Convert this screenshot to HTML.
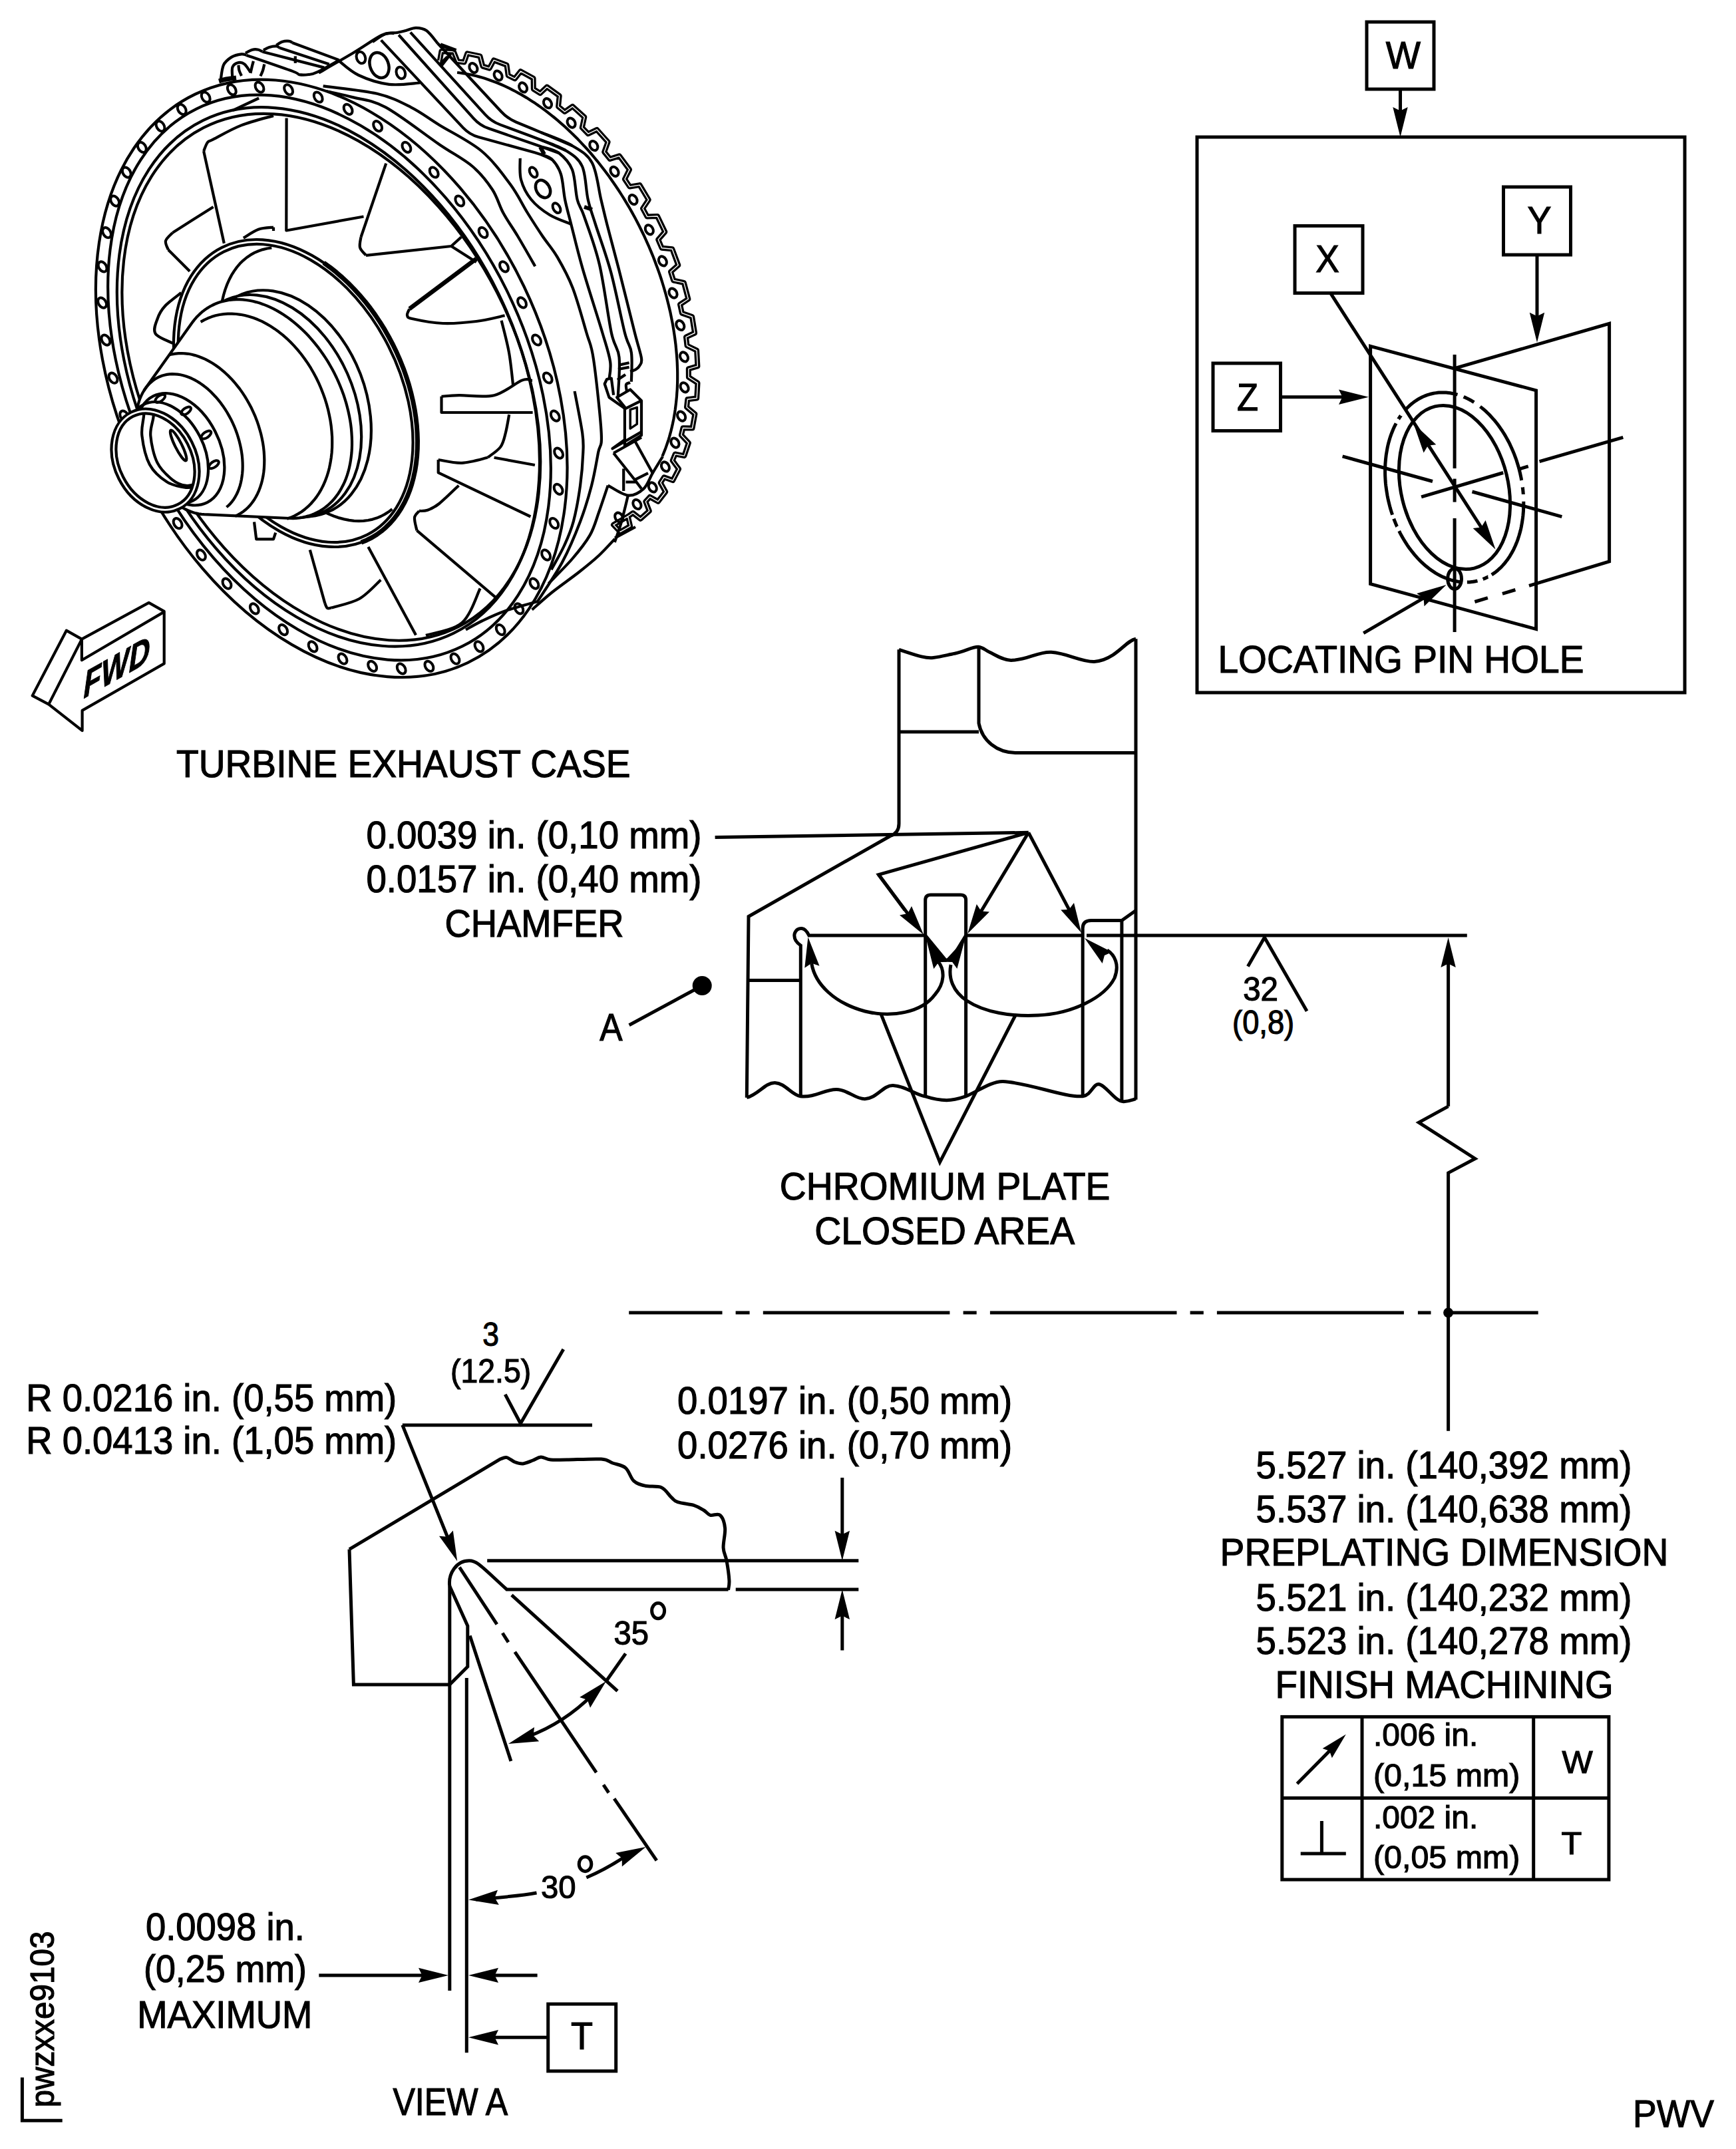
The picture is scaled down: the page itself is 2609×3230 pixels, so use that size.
<!DOCTYPE html>
<html><head><meta charset="utf-8"><style>
html,body{margin:0;padding:0;background:#fff;}
svg{display:block;}
</style></head><body>
<svg xmlns="http://www.w3.org/2000/svg" width="2609" height="3230" viewBox="0 0 2609 3230">
<rect width="2609" height="3230" fill="#fff"/>
<g fill="none" stroke="#000" stroke-width="5" stroke-linecap="butt" stroke-linejoin="miter">
<style>.f{fill:#000;stroke:none} text{fill:#000;stroke:#000;stroke-width:1.2px;font-family:"Liberation Sans",sans-serif}</style>
<rect x="1799.0" y="206.0" width="733.0" height="835.0"/>
<rect x="2054.0" y="33.0" width="101.0" height="101.0"/>
<text x="2082.8" y="102.9" font-size="57.5" textLength="52.2" lengthAdjust="spacingAndGlyphs" >W</text>
<line x1="2104.5" y1="134.0" x2="2104.5" y2="170.0"/>
<polygon class="f" points="2104.5,206.0 2093.3,161.0 2104.5,166.4 2115.7,161.0"/>
<rect x="1946.0" y="339.5" width="102.0" height="101.0"/>
<text x="1977.3" y="409.3" font-size="57.5" textLength="35.5" lengthAdjust="spacingAndGlyphs" >X</text>
<rect x="2259.5" y="281.0" width="101.0" height="102.0"/>
<text x="2295.4" y="351.1" font-size="57.5" textLength="36.0" lengthAdjust="spacingAndGlyphs" >Y</text>
<rect x="1823.0" y="546.0" width="101.5" height="101.5"/>
<text x="1858.9" y="616.5" font-size="57.5" textLength="32.0" lengthAdjust="spacingAndGlyphs" >Z</text>
<line x1="1924.5" y1="596.7" x2="2021.0" y2="596.7"/>
<polygon class="f" points="2057.0,596.7 2012.0,607.9 2017.4,596.7 2012.0,585.5"/>
<line x1="2310.0" y1="383.0" x2="2310.0" y2="478.8"/>
<polygon class="f" points="2310.0,514.8 2298.8,469.8 2310.0,475.2 2321.2,469.8"/>
<polygon points="2059.6,520.3 2308.6,586.8 2308.6,945.6 2059.6,877.7"/>
<polyline points="2186.1,553.7 2418.6,486.3 2418.6,844.0 2298.0,880.3"/>
<line x1="2277.4" y1="886.5" x2="2257.9" y2="892.3"/>
<line x1="2235.9" y1="898.7" x2="2216.4" y2="904.5"/>
<line x1="2186.1" y1="533.0" x2="2186.1" y2="704.0"/>
<line x1="2186.1" y1="719.6" x2="2186.1" y2="754.6"/>
<line x1="2186.1" y1="779.0" x2="2186.1" y2="950.0"/>
<line x1="2017.6" y1="685.9" x2="2153.0" y2="723.5"/>
<line x1="2212.5" y1="739.0" x2="2347.3" y2="776.6"/>
<line x1="2136.1" y1="746.8" x2="2259.2" y2="710.5"/>
<line x1="2282.5" y1="705.3" x2="2296.8" y2="700.9"/>
<line x1="2313.6" y1="693.7" x2="2439.3" y2="657.4"/>
<line x1="1999.5" y1="440.4" x2="2228.0" y2="795.5"/>
<polygon class="f" points="2247.5,825.8 2213.7,794.0 2226.1,792.5 2232.6,781.9"/>
<polygon class="f" points="2124.4,636.6 2158.3,668.2 2146.0,669.8 2139.6,680.4"/>
<ellipse cx="2186.0" cy="732.5" rx="125.1" ry="80.5" transform="rotate(76.41 2186.0 732.5)" />
<polyline points="2197.0,874.8 2194.4,874.6 2191.7,874.2 2189.0,873.7 2186.3,873.2 2183.6,872.5 2180.9,871.8 2178.3,871.0 2175.6,870.0 2172.9,869.0 2170.3,867.9 2167.6,866.7 2165.0,865.4 2162.3,864.1 2159.7,862.6 2157.1,861.1 2154.6,859.4 2152.0,857.7 2149.5,855.9 2147.0,854.0 2144.5,852.0 2142.0,850.0 2139.6,847.9 2137.2,845.7 2134.9,843.4 2132.5,841.1 2130.2,838.6 2128.0,836.1 2125.8,833.6 2123.6,830.9 2121.5,828.3 2119.4,825.5 2117.3,822.7 2115.3,819.8 2113.4,816.9 2111.5,813.9 2109.6,810.8 2107.8,807.7 2106.0,804.6 2104.3,801.4 2102.7,798.1"/>
<polyline points="2099.6,791.5 2099.4,791.2 2099.3,790.9 2099.2,790.6 2099.0,790.3 2098.9,790.1 2098.8,789.8 2098.7,789.5 2098.5,789.2 2098.4,788.9 2098.3,788.6 2098.2,788.3 2098.0,788.0 2097.9,787.7 2097.8,787.4 2097.7,787.2 2097.5,786.9 2097.4,786.6 2097.3,786.3 2097.2,786.0 2097.1,785.7 2096.9,785.4 2096.8,785.1 2096.7,784.8 2096.6,784.5 2096.5,784.2 2096.3,783.9 2096.2,783.6 2096.1,783.3 2096.0,783.1 2095.9,782.8 2095.8,782.5 2095.6,782.2 2095.5,781.9 2095.4,781.6 2095.3,781.3 2095.2,781.0 2095.1,780.7 2095.0,780.4 2094.8,780.1 2094.7,779.8"/>
<polyline points="2092.6,773.8 2091.4,770.2 2090.3,766.7 2089.2,763.1 2088.3,759.5 2087.4,755.8 2086.5,752.2 2085.7,748.5 2085.0,744.9 2084.4,741.2 2083.8,737.5 2083.3,733.8 2082.8,730.1 2082.4,726.4 2082.1,722.8 2081.9,719.1 2081.7,715.4 2081.6,711.8 2081.6,708.1 2081.6,704.5 2081.8,700.9 2081.9,697.3 2082.2,693.8 2082.5,690.2 2082.9,686.7 2083.3,683.3 2083.9,679.8 2084.5,676.4 2085.1,673.0 2085.8,669.7 2086.6,666.4 2087.5,663.2 2088.4,660.0 2089.4,656.8 2090.5,653.7 2091.6,650.7 2092.8,647.7 2094.0,644.8 2095.3,641.9 2096.7,639.1 2098.1,636.3"/>
<polyline points="2101.8,629.8 2101.9,629.7 2102.0,629.6 2102.1,629.4 2102.2,629.3 2102.2,629.2 2102.3,629.1 2102.4,628.9 2102.5,628.8 2102.6,628.7 2102.7,628.5 2102.7,628.4 2102.8,628.3 2102.9,628.2 2103.0,628.0 2103.1,627.9 2103.2,627.8 2103.2,627.7 2103.3,627.5 2103.4,627.4 2103.5,627.3 2103.6,627.1 2103.7,627.0 2103.7,626.9 2103.8,626.8 2103.9,626.6 2104.0,626.5 2104.1,626.4 2104.2,626.3 2104.2,626.1 2104.3,626.0 2104.4,625.9 2104.5,625.8 2104.6,625.7 2104.7,625.5 2104.8,625.4 2104.8,625.3 2104.9,625.2 2105.0,625.0 2105.1,624.9 2105.2,624.8"/>
<polyline points="2111.8,616.4 2113.3,614.7 2114.9,613.1 2116.5,611.5 2118.2,609.9 2119.8,608.4 2121.5,607.0 2123.3,605.6 2125.0,604.3 2126.8,603.0 2128.6,601.8 2130.4,600.6 2132.3,599.5 2134.2,598.5 2136.1,597.5 2138.0,596.5 2139.9,595.7 2141.9,594.9 2143.9,594.1 2145.9,593.4 2147.9,592.8 2149.9,592.2 2152.0,591.7 2154.1,591.3 2156.1,590.9 2158.2,590.6 2160.3,590.3 2162.5,590.1 2164.6,590.0 2166.7,589.9 2168.9,589.9 2171.0,590.0 2173.2,590.1 2175.3,590.2 2177.5,590.5 2179.7,590.8 2181.8,591.2 2184.0,591.6 2186.2,592.1 2188.4,592.6 2190.5,593.2"/>
<polyline points="2199.6,596.4 2200.0,596.6 2200.4,596.7 2200.8,596.9 2201.2,597.1 2201.6,597.3 2202.0,597.4 2202.4,597.6 2202.8,597.8 2203.2,598.0 2203.6,598.2 2204.0,598.4 2204.4,598.5 2204.8,598.7 2205.2,598.9 2205.6,599.1 2206.0,599.3 2206.3,599.5 2206.7,599.7 2207.1,599.9 2207.5,600.1 2207.9,600.3 2208.3,600.5 2208.7,600.7 2209.1,601.0 2209.5,601.2 2209.9,601.4 2210.3,601.6 2210.7,601.8 2211.1,602.0 2211.5,602.3 2211.8,602.5 2212.2,602.7 2212.6,603.0 2213.0,603.2 2213.4,603.4 2213.8,603.7 2214.2,603.9 2214.6,604.1 2215.0,604.4 2215.3,604.6"/>
<polyline points="2224.5,611.1 2226.8,612.9 2229.0,614.7 2231.3,616.7 2233.5,618.7 2235.6,620.7 2237.8,622.8 2239.9,625.0 2242.0,627.3 2244.0,629.6 2246.1,631.9 2248.0,634.3 2250.0,636.8 2251.9,639.3 2253.8,641.9 2255.6,644.6 2257.4,647.2 2259.2,650.0 2260.9,652.7 2262.6,655.5 2264.2,658.4 2265.8,661.3 2267.4,664.2 2268.9,667.2 2270.3,670.2 2271.7,673.3 2273.1,676.4 2274.4,679.5 2275.7,682.6 2276.9,685.8 2278.1,689.0 2279.2,692.2 2280.2,695.5 2281.2,698.7 2282.2,702.0 2283.1,705.3 2283.9,708.6 2284.7,711.9 2285.4,715.3 2286.1,718.6 2286.7,722.0"/>
<polyline points="2288.3,732.5 2288.3,732.8 2288.4,733.0 2288.4,733.3 2288.4,733.6 2288.5,733.8 2288.5,734.1 2288.5,734.3 2288.6,734.6 2288.6,734.9 2288.6,735.1 2288.6,735.4 2288.7,735.6 2288.7,735.9 2288.7,736.1 2288.7,736.4 2288.8,736.7 2288.8,736.9 2288.8,737.2 2288.9,737.4 2288.9,737.7 2288.9,738.0 2288.9,738.2 2289.0,738.5 2289.0,738.7 2289.0,739.0 2289.0,739.2 2289.0,739.5 2289.1,739.8 2289.1,740.0 2289.1,740.3 2289.1,740.5 2289.2,740.8 2289.2,741.0 2289.2,741.3 2289.2,741.6 2289.2,741.8 2289.3,742.1 2289.3,742.3 2289.3,742.6 2289.3,742.9"/>
<polyline points="2289.8,753.7 2289.8,757.3 2289.8,760.9 2289.6,764.4 2289.5,768.0 2289.2,771.5 2288.9,775.0 2288.5,778.4 2288.0,781.9 2287.5,785.3 2286.9,788.6 2286.3,792.0 2285.6,795.3 2284.8,798.5 2283.9,801.7 2283.0,804.9 2282.0,808.0 2281.0,811.1 2279.9,814.1 2278.7,817.0 2277.5,820.0 2276.2,822.8 2274.9,825.6 2273.5,828.3 2272.0,831.0 2270.5,833.6 2269.0,836.1 2267.3,838.6 2265.7,841.0 2263.9,843.3 2262.1,845.6 2260.3,847.8 2258.4,849.9 2256.5,851.9 2254.5,853.9 2252.5,855.7 2250.5,857.5 2248.4,859.2 2246.2,860.9 2244.0,862.4 2241.8,863.9"/>
<polyline points="2236.3,867.1 2236.1,867.1 2235.9,867.2 2235.7,867.3 2235.5,867.4 2235.3,867.5 2235.1,867.6 2235.0,867.7 2234.8,867.8 2234.6,867.9 2234.4,868.0 2234.2,868.1 2234.0,868.2 2233.8,868.3 2233.6,868.3 2233.5,868.4 2233.3,868.5 2233.1,868.6 2232.9,868.7 2232.7,868.8 2232.5,868.9 2232.3,869.0 2232.1,869.0 2231.9,869.1 2231.7,869.2 2231.6,869.3 2231.4,869.4 2231.2,869.5 2231.0,869.5 2230.8,869.6 2230.6,869.7 2230.4,869.8 2230.2,869.8 2230.0,869.9 2229.8,870.0 2229.6,870.1 2229.4,870.2 2229.3,870.2 2229.1,870.3 2228.9,870.4 2228.7,870.5"/>
<polyline points="2220.5,873.0 2220.1,873.1 2219.7,873.2 2219.3,873.3 2218.9,873.4 2218.5,873.5 2218.2,873.6 2217.8,873.6 2217.4,873.7 2217.0,873.8 2216.6,873.9 2216.2,873.9 2215.8,874.0 2215.5,874.1 2215.1,874.1 2214.7,874.2 2214.3,874.3 2213.9,874.3 2213.5,874.4 2213.1,874.4 2212.7,874.5 2212.4,874.5 2212.0,874.6 2211.6,874.6 2211.2,874.7 2210.8,874.7 2210.4,874.8 2210.0,874.8 2209.6,874.8 2209.2,874.9 2208.8,874.9 2208.4,874.9 2208.0,874.9 2207.6,875.0 2207.2,875.0 2206.9,875.0 2206.5,875.0 2206.1,875.0 2205.7,875.1 2205.3,875.1 2204.9,875.1"/>
<ellipse cx="2186.1" cy="869.9" rx="10.4" ry="15.5"/>
<line x1="2049.2" y1="951.6" x2="2142.6" y2="897.1"/>
<polygon class="f" points="2173.7,879.0 2140.5,911.3 2139.5,898.9 2129.2,892.0"/>
<text x="1830.4" y="1011.2" font-size="57.5" textLength="550.0" lengthAdjust="spacingAndGlyphs" >LOCATING PIN HOLE</text>
<text x="550.4" y="1274.6" font-size="57.5" textLength="504.0" lengthAdjust="spacingAndGlyphs" >0.0039 in. (0,10 mm)</text>
<text x="550.4" y="1341.1" font-size="57.5" textLength="504.0" lengthAdjust="spacingAndGlyphs" >0.0157 in. (0,40 mm)</text>
<text x="668.5" y="1407.7" font-size="57.5" textLength="269.0" lengthAdjust="spacingAndGlyphs" >CHAMFER</text>
<text x="901.2" y="1563.7" font-size="57.5" textLength="34.3" lengthAdjust="spacingAndGlyphs" >A</text>
<line x1="945.6" y1="1540.7" x2="1055.2" y2="1481.5"/>
<circle class="f" cx="1055.2" cy="1481.5" r="14.5"/>
<path d="M1351,976.3 L1351,1238 Q1351,1252 1338,1256.5" />
<path d="M1351,976.3 C1375,984 1390,990 1402.6,988.4 C1415,987 1425,984 1434.8,982.3 C1450,979 1462,972 1470.3,972.3 C1478,973 1480,977 1487.3,980.3 C1497,985 1507,992 1519.5,992.4 C1545,992 1560,979 1580,980.3 C1605,982 1625,995 1644.5,994.4 C1656,994 1664,990 1672.7,984.4 C1688,974 1697,962 1707,960.2" />
<path d="M1471,972.3 L1471,1087 C1476,1113 1498,1131.5 1527.6,1131.5 L1707,1131.5" />
<line x1="1351.0" y1="1100.0" x2="1471.0" y2="1100.0"/>
<line x1="1707.0" y1="960.2" x2="1707.0" y2="1652.8"/>
<line x1="1074.6" y1="1258.5" x2="1545.7" y2="1251.3"/>
<polyline points="1545.7,1251.3 1320.4,1314.6 1360.0,1368.0"/>
<line x1="1320.4" y1="1314.6" x2="1366.4" y2="1375.9"/>
<polygon class="f" points="1388.0,1404.7 1352.0,1375.4 1364.2,1373.0 1370.0,1362.0"/>
<line x1="1545.7" y1="1251.3" x2="1472.8" y2="1372.5"/>
<polygon class="f" points="1454.2,1403.3 1467.8,1359.0 1474.6,1369.4 1487.0,1370.5"/>
<line x1="1545.7" y1="1251.3" x2="1608.3" y2="1370.2"/>
<polygon class="f" points="1625.1,1402.0 1594.2,1367.4 1606.6,1367.0 1614.0,1357.0"/>
<polyline points="1338.0,1256.5 1125.0,1377.5 1122.3,1649.7"/>
<line x1="1122.5" y1="1473.6" x2="1203.3" y2="1473.6"/>
<path d="M1203.3,1647.7 L1203.3,1421 C1196,1416 1193,1411 1194,1404 C1196,1397 1201,1395 1205,1395.5 C1209,1396 1213,1400 1215.8,1406 L1390.7,1406" />
<line x1="1451.6" y1="1406.0" x2="1625.1" y2="1406.0"/>
<line x1="1633.0" y1="1406.0" x2="2204.8" y2="1406.0"/>
<path d="M1390.7,1647.7 L1390.7,1353 Q1390.7,1345 1398.7,1345 L1443.6,1345 Q1451.6,1345 1451.6,1353 L1451.6,1647.7" />
<polyline points="1390.7,1406.0 1421.1,1443.1 1429.0,1443.1 1451.6,1406.0"/>
<path d="M1627.2,1647.7 L1627.2,1395 Q1627.2,1383.5 1640,1383.5 L1685.9,1383.5 L1707,1368.5" />
<line x1="1685.9" y1="1383.5" x2="1685.9" y2="1656.0"/>
<path d="M1122.3,1649.7 C1140,1645 1150,1627 1164.7,1627.5 C1180,1628 1190,1646 1203,1647.7 C1225,1650 1240,1637 1257.4,1637.6 C1275,1638 1285,1652 1299.8,1651.7 C1318,1651 1327,1631 1342.1,1631.5 C1360,1632 1375,1645 1389.7,1647.7 C1400,1651 1410,1653.7 1422.7,1653.7 C1435,1653.7 1445,1650 1451.8,1647.7 C1470,1640 1490,1625 1507.4,1625.5 C1545,1627 1600,1650 1627.2,1647.7 C1640,1646 1643,1629.5 1650.6,1629.5 C1662,1630 1675,1656 1688.9,1655.7 C1697,1655.5 1702,1653 1707,1651.7" />
<path d="M1219.7,1448 C1225,1480 1255,1508 1300,1520 C1340,1530 1385,1522 1405,1495 C1420,1478 1420,1458 1410.5,1446" />
<polygon class="f" points="1214.4,1408.6 1231.5,1451.7 1219.7,1447.8 1209.3,1454.7"/>
<polygon class="f" points="1392.0,1411.3 1423.1,1445.7 1410.6,1446.2 1403.3,1456.3"/>
<path d="M1429,1450 C1425,1470 1432,1490 1452.9,1504 C1480,1522 1520,1528 1560,1526 C1610,1524 1660,1500 1675,1470 C1683,1450 1675,1435 1664,1428" />
<polygon class="f" points="1450.3,1411.3 1438.4,1456.1 1431.2,1446.0 1418.8,1445.3"/>
<polygon class="f" points="1630.0,1410.0 1671.3,1431.0 1659.9,1435.9 1656.7,1447.9"/>
<polyline points="1324.4,1525.2 1412.5,1746.8 1525.8,1526.5"/>
<text x="1171.8" y="1803.2" font-size="57.5" textLength="496.7" lengthAdjust="spacingAndGlyphs" >CHROMIUM PLATE</text>
<text x="1224.2" y="1869.8" font-size="57.5" textLength="391.1" lengthAdjust="spacingAndGlyphs" >CLOSED AREA</text>
<polyline points="1875.4,1452.4 1900.4,1408.9 1964.1,1519.8"/>
<text x="1868.2" y="1504.0" font-size="50" textLength="52.8" lengthAdjust="spacingAndGlyphs" >32</text>
<text x="1852.1" y="1554.0" font-size="50" textLength="93.1" lengthAdjust="spacingAndGlyphs" >(0,8)</text>
<line x1="2176.6" y1="1662.9" x2="2176.6" y2="1444.9"/>
<polygon class="f" points="2176.6,1408.9 2187.8,1453.9 2176.6,1448.5 2165.4,1453.9"/>
<polyline points="2176.6,1662.9 2132.3,1687.1 2216.9,1741.5 2176.6,1762.9 2176.6,2150.7"/>
<line x1="945.2" y1="1973.0" x2="1085.5" y2="1973.0"/>
<line x1="1105.6" y1="1973.0" x2="1126.6" y2="1973.0"/>
<line x1="1146.8" y1="1973.0" x2="1427.4" y2="1973.0"/>
<line x1="1447.6" y1="1973.0" x2="1467.7" y2="1973.0"/>
<line x1="1487.9" y1="1973.0" x2="1768.5" y2="1973.0"/>
<line x1="1788.6" y1="1973.0" x2="1808.8" y2="1973.0"/>
<line x1="1828.9" y1="1973.0" x2="2109.9" y2="1973.0"/>
<line x1="2130.9" y1="1973.0" x2="2150.5" y2="1973.0"/>
<line x1="2176.6" y1="1973.0" x2="2311.7" y2="1973.0"/>
<circle class="f" cx="2176.6" cy="1973" r="7.5"/>
<text x="39.2" y="2120.6" font-size="57.5" textLength="557.0" lengthAdjust="spacingAndGlyphs" >R 0.0216 in. (0,55 mm)</text>
<text x="39.2" y="2185.1" font-size="57.5" textLength="557.0" lengthAdjust="spacingAndGlyphs" >R 0.0413 in. (1,05 mm)</text>
<text x="725.3" y="2023.1" font-size="50" textLength="24.7" lengthAdjust="spacingAndGlyphs" >3</text>
<text x="677.1" y="2077.6" font-size="50" textLength="121.0" lengthAdjust="spacingAndGlyphs" >(12.5)</text>
<line x1="604.8" y1="2141.9" x2="890.0" y2="2141.9"/>
<polyline points="759.2,2095.9 782.3,2139.5 846.8,2027.9"/>
<line x1="604.8" y1="2141.9" x2="673.7" y2="2313.0"/>
<polygon class="f" points="687.2,2346.4 660.0,2308.8 672.4,2309.7 680.8,2300.5"/>
<path d="M525.0,2328.7 L751.7,2193.1 C753.4,2192.7 757.9,2189.9 761.5,2190.6 C765.2,2191.4 769.7,2195.9 773.8,2197.5 C777.9,2199.0 781.5,2200.3 786.0,2199.9 C790.5,2199.5 796.2,2196.7 800.7,2195.0 C805.2,2193.4 808.5,2190.3 812.9,2190.1 C817.4,2190.0 821.1,2193.4 827.6,2194.1 C834.2,2194.7 839.5,2194.2 852.1,2194.1 C864.8,2193.9 892.1,2192.3 903.5,2193.1 C914.9,2193.9 914.5,2196.8 920.7,2199.0 C926.8,2201.2 934.9,2201.8 940.2,2206.3 C945.5,2210.8 947.6,2221.4 952.5,2225.9 C957.4,2230.4 962.7,2231.6 969.6,2233.2 C976.6,2234.9 987.6,2232.8 994.1,2235.7 C1000.6,2238.5 1004.7,2246.7 1008.8,2250.4 C1012.9,2254.0 1012.9,2255.7 1018.6,2257.7 C1024.3,2259.8 1036.5,2260.6 1043.1,2262.6 C1049.6,2264.7 1053.7,2267.5 1057.8,2270.0 C1061.8,2272.4 1063.5,2276.1 1067.5,2277.3 C1071.6,2278.5 1078.6,2274.0 1082.2,2277.3 C1085.9,2280.6 1088.8,2288.7 1089.6,2296.9 C1090.4,2305.0 1086.7,2318.1 1087.1,2326.3 C1087.5,2334.4 1090.6,2337.7 1092.0,2345.8 C1093.5,2354.0 1095.5,2367.9 1095.9,2375.2 C1096.4,2382.6 1094.7,2387.5 1094.5,2389.9" />
<polyline points="525.0,2328.7 531.4,2531.9 675.8,2531.9 702.8,2505.0 702.8,2443.8 675.8,2384.0"/>
<path d="M675.8,2384.0 C673.4,2365.4 685.6,2345.8 705.2,2345.8 C717.5,2345.8 724.8,2355.6 761.5,2388.9 L1094.5,2388.9" />
<line x1="675.8" y1="2384.0" x2="675.8" y2="2991.9"/>
<line x1="701.3" y1="2522.0" x2="701.3" y2="3085.3"/>
<line x1="732.2" y1="2345.8" x2="1290.3" y2="2345.8"/>
<line x1="1105.7" y1="2388.9" x2="1290.3" y2="2388.9"/>
<line x1="1265.8" y1="2221.0" x2="1265.8" y2="2309.8"/>
<polygon class="f" points="1265.8,2345.8 1254.6,2300.8 1265.8,2306.2 1277.0,2300.8"/>
<line x1="1265.8" y1="2480.5" x2="1265.8" y2="2425.0"/>
<polygon class="f" points="1265.8,2389.0 1277.0,2434.0 1265.8,2428.6 1254.6,2434.0"/>
<line x1="706.2" y1="2458.5" x2="767.9" y2="2647.0"/>
<line x1="690.5" y1="2355.6" x2="746.8" y2="2441.3"/>
<line x1="755.2" y1="2454.5" x2="764.0" y2="2468.3"/>
<line x1="773.8" y1="2482.9" x2="896.2" y2="2664.1"/>
<line x1="906.9" y1="2682.7" x2="914.8" y2="2694.5"/>
<line x1="923.1" y1="2703.3" x2="986.8" y2="2796.3"/>
<line x1="768.9" y1="2397.3" x2="928.0" y2="2541.7"/>
<path d="M793.4,2610.2 C832.5,2595.6 866.8,2571.1 891.3,2546.6" />
<polygon class="f" points="764.0,2621.0 803.0,2596.0 801.5,2608.4 810.2,2617.2"/>
<polygon class="f" points="910.9,2527.0 887.0,2566.7 882.9,2555.0 871.1,2550.9"/>
<line x1="910.9" y1="2527.0" x2="940.2" y2="2485.4"/>
<text x="922.4" y="2471.9" font-size="50" textLength="52.5" lengthAdjust="spacingAndGlyphs" >35</text>
<ellipse cx="989.1" cy="2421.1" rx="9.5" ry="11.6" stroke-width="5"/>
<path d="M806.5,2845 C780,2850 740,2853 715,2855" />
<polygon class="f" points="704.0,2855.5 748.0,2840.7 743.5,2852.3 749.8,2863.1"/>
<path d="M881.3,2822 C905,2812 925,2800 940,2790" />
<polygon class="f" points="970.6,2775.9 934.8,2805.4 934.8,2792.9 925.2,2785.1"/>
<text x="813.0" y="2852.5" font-size="49" textLength="52.6" lengthAdjust="spacingAndGlyphs" >30</text>
<ellipse cx="879.5" cy="2801.7" rx="9.3" ry="11" stroke-width="5"/>
<text x="218.9" y="2915.9" font-size="57.5" textLength="239.0" lengthAdjust="spacingAndGlyphs" >0.0098 in.</text>
<text x="216.0" y="2979.3" font-size="57.5" textLength="245.0" lengthAdjust="spacingAndGlyphs" >(0,25 mm)</text>
<text x="206.2" y="3048.4" font-size="57.5" textLength="263.3" lengthAdjust="spacingAndGlyphs" >MAXIMUM</text>
<line x1="479.3" y1="2968.9" x2="638.0" y2="2968.9"/>
<polygon class="f" points="674.0,2968.9 629.0,2980.1 634.4,2968.9 629.0,2957.7"/>
<line x1="807.6" y1="2968.9" x2="740.0" y2="2968.9"/>
<polygon class="f" points="704.0,2968.9 749.0,2957.7 743.6,2968.9 749.0,2980.1"/>
<rect x="823.7" y="3012.1" width="102.0" height="100.8"/>
<text x="858.0" y="3080.0" font-size="57.5" textLength="33.0" lengthAdjust="spacingAndGlyphs" >T</text>
<line x1="823.7" y1="3062.2" x2="740.0" y2="3062.2"/>
<polygon class="f" points="704.0,3062.2 749.0,3051.0 743.6,3062.2 749.0,3073.4"/>
<text x="590.4" y="3179.2" font-size="57.5" textLength="172.8" lengthAdjust="spacingAndGlyphs" >VIEW A</text>
<text x="0" y="0" font-size="50" transform="translate(81 3167.5) rotate(-90)" textLength="265" lengthAdjust="spacingAndGlyphs">pwzxxe9103</text>
<polyline points="33.4,3122.6 33.4,3187.3 93.7,3187.3"/>
<text x="2454.0" y="3196.8" font-size="57.5" textLength="121.9" lengthAdjust="spacingAndGlyphs" >PWV</text>
<text x="1018.1" y="2125.2" font-size="57.5" textLength="503.0" lengthAdjust="spacingAndGlyphs" >0.0197 in. (0,50 mm)</text>
<text x="1018.1" y="2191.7" font-size="57.5" textLength="503.0" lengthAdjust="spacingAndGlyphs" >0.0276 in. (0,70 mm)</text>
<text x="1887.6" y="2221.6" font-size="57.5" textLength="564.8" lengthAdjust="spacingAndGlyphs" >5.527 in. (140,392 mm)</text>
<text x="1887.6" y="2287.7" font-size="57.5" textLength="564.8" lengthAdjust="spacingAndGlyphs" >5.537 in. (140,638 mm)</text>
<text x="1833.6" y="2353.4" font-size="57.5" textLength="673.8" lengthAdjust="spacingAndGlyphs" >PREPLATING DIMENSION</text>
<text x="1887.6" y="2420.6" font-size="57.5" textLength="564.8" lengthAdjust="spacingAndGlyphs" >5.521 in. (140,232 mm)</text>
<text x="1887.6" y="2486.3" font-size="57.5" textLength="564.8" lengthAdjust="spacingAndGlyphs" >5.523 in. (140,278 mm)</text>
<text x="1916.5" y="2552.4" font-size="57.5" textLength="508.0" lengthAdjust="spacingAndGlyphs" >FINISH MACHINING</text>
<rect x="1926.8" y="2580.4" width="491.1" height="244.7"/>
<line x1="1926.8" y1="2702.5" x2="2417.9" y2="2702.5"/>
<line x1="2047.0" y1="2580.4" x2="2047.0" y2="2825.1"/>
<line x1="2304.7" y1="2580.4" x2="2304.7" y2="2825.1"/>
<line x1="1949.4" y1="2681.0" x2="2000.3" y2="2629.5"/>
<polygon class="f" points="2022.8,2606.7 2001.8,2642.2 1998.1,2631.7 1987.6,2628.1"/>
<line x1="1986.4" y1="2737.0" x2="1986.4" y2="2786.0"/>
<line x1="1954.7" y1="2786.0" x2="2022.8" y2="2786.0"/>
<text x="2064.0" y="2624.3" font-size="49" textLength="157.2" lengthAdjust="spacingAndGlyphs" >.006 in.</text>
<text x="2064.0" y="2684.6" font-size="49" textLength="220.3" lengthAdjust="spacingAndGlyphs" >(0,15 mm)</text>
<text x="2347.4" y="2664.6" font-size="49" textLength="46.2" lengthAdjust="spacingAndGlyphs" >W</text>
<text x="2064.0" y="2747.7" font-size="49" textLength="157.2" lengthAdjust="spacingAndGlyphs" >.002 in.</text>
<text x="2064.0" y="2808.0" font-size="49" textLength="220.3" lengthAdjust="spacingAndGlyphs" >(0,05 mm)</text>
<text x="2346.6" y="2787.4" font-size="49" textLength="30.8" lengthAdjust="spacingAndGlyphs" >T</text>
<g stroke-width="4.2" stroke-linejoin="round">
<polyline points="660.7,91.2 660.9,91.1 663.4,77.2 681.9,77.8 687.8,92.2 697.7,93.5 702.3,80.3 721.4,84.3 725.4,99.6 735.6,102.6 742.2,90.4 761.5,97.7 763.7,113.5 773.8,118.3 782.4,107.2 801.6,117.7 801.8,133.8 811.8,140.2 822.0,130.6 840.7,144.0 839.1,160.1 848.7,168.0 860.5,159.9 878.3,176.0 874.8,191.8 883.9,201.1 897.0,194.8 913.6,213.3 908.2,228.4 916.7,238.9 930.8,234.4 946.0,254.9 938.9,269.2 946.4,280.6 961.4,278.1 974.7,300.3 966.0,313.4 972.6,325.6 988.0,325.0 999.3,348.5 989.2,360.1 994.6,372.8 1010.3,374.3 1019.3,398.5 1008.0,408.5 1012.2,421.5 1027.8,424.9 1034.4,449.5 1022.0,457.6 1024.9,470.7 1040.1,476.0 1044.1,500.5 1031.0,506.6 1032.5,519.5 1047.1,526.6 1048.4,550.4 1034.8,554.4 1034.9,566.9 1048.5,575.7 1047.2,598.5 1033.3,600.3 1032.0,612.0 1044.4,622.3 1040.5,643.6 1026.5,643.2 1023.9,654.0 1034.9,665.7 1028.4,685.1 1014.7,682.5 1010.7,692.2 1020.1,704.9 1011.1,722.1 998.0,717.3 992.7,725.7 1000.2,739.2 989.0,753.8 976.7,746.9 970.3,753.9 975.8,768.0 962.6,779.8 951.2,771.0 943.8,776.3 947.2,790.8 932.2,799.4 922.0,788.8 945.3,775.2" stroke-width="8"/>
<polyline points="660.7,91.2 660.9,91.1 663.4,77.2 681.9,77.8 687.8,92.2 697.7,93.5 702.3,80.3 721.4,84.3 725.4,99.6 735.6,102.6 742.2,90.4 761.5,97.7 763.7,113.5 773.8,118.3 782.4,107.2 801.6,117.7 801.8,133.8 811.8,140.2 822.0,130.6 840.7,144.0 839.1,160.1 848.7,168.0 860.5,159.9 878.3,176.0 874.8,191.8 883.9,201.1 897.0,194.8 913.6,213.3 908.2,228.4 916.7,238.9 930.8,234.4 946.0,254.9 938.9,269.2 946.4,280.6 961.4,278.1 974.7,300.3 966.0,313.4 972.6,325.6 988.0,325.0 999.3,348.5 989.2,360.1 994.6,372.8 1010.3,374.3 1019.3,398.5 1008.0,408.5 1012.2,421.5 1027.8,424.9 1034.4,449.5 1022.0,457.6 1024.9,470.7 1040.1,476.0 1044.1,500.5 1031.0,506.6 1032.5,519.5 1047.1,526.6 1048.4,550.4 1034.8,554.4 1034.9,566.9 1048.5,575.7 1047.2,598.5 1033.3,600.3 1032.0,612.0 1044.4,622.3 1040.5,643.6 1026.5,643.2 1023.9,654.0 1034.9,665.7 1028.4,685.1 1014.7,682.5 1010.7,692.2 1020.1,704.9 1011.1,722.1 998.0,717.3 992.7,725.7 1000.2,739.2 989.0,753.8 976.7,746.9 970.3,753.9 975.8,768.0 962.6,779.8 951.2,771.0 943.8,776.3 947.2,790.8 932.2,799.4 922.0,788.8 945.3,775.2" stroke="#fff" stroke-width="1.4"/>
<ellipse cx="711.4" cy="102.1" rx="5.5" ry="7.5" transform="rotate(-30 711.4 102.1)" stroke-width="4"/>
<ellipse cx="748.6" cy="113.6" rx="5.5" ry="7.5" transform="rotate(-30 748.6 113.6)" stroke-width="4"/>
<ellipse cx="786.1" cy="131.4" rx="5.5" ry="7.5" transform="rotate(-30 786.1 131.4)" stroke-width="4"/>
<ellipse cx="823.0" cy="155.2" rx="5.5" ry="7.5" transform="rotate(-30 823.0 155.2)" stroke-width="4"/>
<ellipse cx="858.6" cy="184.6" rx="5.5" ry="7.5" transform="rotate(-30 858.6 184.6)" stroke-width="4"/>
<ellipse cx="892.3" cy="219.0" rx="5.5" ry="7.5" transform="rotate(-30 892.3 219.0)" stroke-width="4"/>
<ellipse cx="923.5" cy="257.8" rx="5.5" ry="7.5" transform="rotate(-30 923.5 257.8)" stroke-width="4"/>
<ellipse cx="951.5" cy="300.1" rx="5.5" ry="7.5" transform="rotate(-30 951.5 300.1)" stroke-width="4"/>
<ellipse cx="975.8" cy="345.3" rx="5.5" ry="7.5" transform="rotate(-30 975.8 345.3)" stroke-width="4"/>
<ellipse cx="995.9" cy="392.4" rx="5.5" ry="7.5" transform="rotate(-30 995.9 392.4)" stroke-width="4"/>
<ellipse cx="1011.5" cy="440.6" rx="5.5" ry="7.5" transform="rotate(-30 1011.5 440.6)" stroke-width="4"/>
<ellipse cx="1022.3" cy="488.9" rx="5.5" ry="7.5" transform="rotate(-30 1022.3 488.9)" stroke-width="4"/>
<ellipse cx="1028.0" cy="536.4" rx="5.5" ry="7.5" transform="rotate(-30 1028.0 536.4)" stroke-width="4"/>
<ellipse cx="1028.6" cy="582.3" rx="5.5" ry="7.5" transform="rotate(-30 1028.6 582.3)" stroke-width="4"/>
<ellipse cx="1024.1" cy="625.6" rx="5.5" ry="7.5" transform="rotate(-30 1024.1 625.6)" stroke-width="4"/>
<ellipse cx="1014.4" cy="665.6" rx="5.5" ry="7.5" transform="rotate(-30 1014.4 665.6)" stroke-width="4"/>
<ellipse cx="999.9" cy="701.4" rx="5.5" ry="7.5" transform="rotate(-30 999.9 701.4)" stroke-width="4"/>
<ellipse cx="980.8" cy="732.4" rx="5.5" ry="7.5" transform="rotate(-30 980.8 732.4)" stroke-width="4"/>
<ellipse cx="957.4" cy="758.0" rx="5.5" ry="7.5" transform="rotate(-30 957.4 758.0)" stroke-width="4"/>
<ellipse cx="930.2" cy="777.7" rx="5.5" ry="7.5" transform="rotate(-30 930.2 777.7)" stroke-width="4"/>
<polyline points="687.1,109.0 691.2,109.5 695.3,110.1 699.4,110.7 703.5,111.5 707.6,112.3 711.8,113.3 716.0,114.3 720.1,115.4 724.3,116.6 728.5,117.8 732.7,119.2 736.9,120.7 741.1,122.2 745.3,123.8 749.6,125.5 753.8,127.3 758.0,129.2 762.2,131.1 766.4,133.2 770.6,135.3 774.9,137.5 779.1,139.8 783.3,142.1 787.5,144.6 791.7,147.1 795.8,149.7 800.0,152.4 804.2,155.1 808.3,158.0 812.4,160.9 816.5,163.9 820.6,166.9 824.7,170.1 828.8,173.3 832.8,176.5 836.9,179.9 840.9,183.3 844.9,186.8 848.8,190.3 852.8,194.0 856.7,197.7 860.6,201.4 864.4,205.2 868.3,209.1 872.1,213.1 875.8,217.1 879.6,221.1 883.3,225.2 887.0,229.4 890.6,233.7 894.2,238.0 897.8,242.3 901.3,246.7 904.8,251.2 908.3,255.7 911.7,260.2 915.1,264.8 918.4,269.5 921.7,274.2 925.0,279.0 928.2,283.7 931.4,288.6 934.5,293.5 937.6,298.4 940.6,303.3 943.6,308.3 946.5,313.3 949.4,318.4 952.2,323.5 955.0,328.6 957.7,333.8 960.4,339.0 963.0,344.2 965.6,349.5 968.1,354.7 970.5,360.0 972.9,365.4 975.3,370.7 977.6,376.1 979.8,381.4 982.0,386.8 984.1,392.3 986.1,397.7 988.1,403.1 990.1,408.6 992.0,414.0 993.8,419.5 995.5,425.0 997.2,430.5 998.8,436.0 1000.4,441.5 1001.9,447.0 1003.3,452.5 1004.7,458.0 1006.0,463.5 1007.3,468.9 1008.4,474.4 1009.5,479.9 1010.6,485.4 1011.6,490.8 1012.5,496.3 1013.3,501.7 1014.1,507.1 1014.8,512.5 1015.5,517.9 1016.0,523.3 1016.5,528.6 1017.0,534.0 1017.4,539.3 1017.7,544.6 1017.9,549.8 1018.1,555.1 1018.2,560.3 1018.2,565.4 1018.2,570.6 1018.1,575.7 1017.9,580.8 1017.7,585.8 1017.3,590.8 1017.0,595.8 1016.5,600.7 1016.0,605.6 1015.4,610.5 1014.8,615.3 1014.1,620.0 1013.3,624.8 1012.5,629.4 1011.5,634.1 1010.6,638.6 1009.5,643.2 1008.4,647.7 1007.2,652.1 1006.0,656.5 1004.7,660.8 1003.3,665.0 1001.9,669.2 1000.4,673.4 998.8,677.5 997.2,681.5 995.5,685.5"/>
<path d="M924.0,810.0 C920.0,814.2 909.0,826.7 900.0,835.0 C891.0,843.3 881.7,850.8 870.0,860.0 C858.3,869.2 841.8,880.6 830.0,890.0 C818.2,899.4 804.6,912.0 799.5,916.4" />
<polyline points="955.0,792.0 924.0,808.6"/>
<path d="M913.7,729.6 C911.4,736.3 904.5,757.5 900.0,770.0 C895.5,782.5 893.3,792.7 886.6,804.4 C879.9,816.1 870.4,827.9 860.0,840.0 C849.6,852.1 830.3,870.8 824.4,877.0" />
<path d="M863.6,588.0 C865.5,598.5 873.1,635.5 875.2,650.8 C877.3,666.1 876.8,666.8 876.3,680.0 C875.8,693.2 874.4,712.7 872.0,730.0 C869.6,747.3 865.8,768.7 861.8,783.7 C857.8,798.7 853.5,807.9 848.0,820.0 C842.5,832.1 831.8,850.2 828.6,856.3" />
<path d="M485.6,129.4 C499.1,131.3 544.7,135.5 566.7,140.8 C588.7,146.1 601.9,153.3 617.4,161.1 C632.9,168.9 642.3,176.7 660.0,187.7 C677.7,198.7 705.9,212.1 723.7,227.0 C741.5,241.9 755.4,261.6 766.9,277.1 C778.4,292.6 784.7,307.0 792.8,320.0 C800.9,333.0 807.9,343.9 815.4,355.0 C822.9,366.1 830.1,373.5 837.6,386.4 C845.1,399.3 853.3,413.6 860.6,432.5 C867.9,451.4 876.1,482.0 881.4,500.0 C886.6,518.0 888.4,515.6 892.1,540.7 C895.8,565.8 902.5,627.6 903.7,650.8 C904.9,674.0 901.6,666.8 899.1,680.0 C896.6,693.2 893.5,712.7 889.0,730.0 C884.5,747.3 879.4,764.5 872.1,783.7 C864.8,802.9 855.7,825.0 845.0,845.0 C834.3,865.0 814.0,894.2 807.8,904.0" />
<path d="M490.5,137.1 C496.9,138.6 513.9,141.9 528.7,145.9 C543.5,149.9 557.5,149.3 579.4,161.1 C601.3,172.9 638.2,202.1 660.0,216.9 C681.8,231.7 696.7,238.7 710.0,250.0 C723.3,261.4 732.3,273.3 740.0,285.0 C747.7,296.7 749.9,308.3 756.3,320.0 C762.6,331.7 770.1,341.6 778.1,355.0 C786.1,368.4 799.9,392.7 804.2,400.2" />
<path d="M572.7,60.4 L696.1,192.1 Q705.7,202.3 719.2,206.0 L803.6,229.2 Q812.8,231.7 821.4,235.8 L830.0,240.0" />
<path d="M812.8,231.7 C815.7,233.1 825.0,234.9 830.0,240.0 C835.0,245.1 839.8,252.0 843.0,262.0 C846.2,272.0 846.6,287.5 849.1,300.0 C851.6,312.5 853.9,319.6 858.3,336.9 C862.7,354.2 867.8,376.5 875.6,403.7 C883.4,430.9 898.4,476.7 905.3,500.0 C912.2,523.3 915.4,531.9 917.1,543.6 C918.8,555.3 915.7,565.9 915.4,570.4" />
<path d="M599.2,52.5 L711.9,178.1 Q721.2,188.5 734.4,193.1 L804.4,217.2 Q816.3,221.3 828.1,225.7 L840.0,230.0" />
<path d="M816.3,221.3 C820.2,222.8 832.7,224.4 840.0,230.0 C847.3,235.6 855.4,243.3 860.0,255.0 C864.6,266.7 864.6,288.3 867.6,300.0 C870.6,311.7 872.3,309.0 877.9,325.3 C883.5,341.6 894.2,368.8 901.0,397.9 C907.8,427.0 913.9,476.8 918.8,500.0 C923.7,523.2 928.8,521.0 930.5,536.9 C932.2,552.8 929.1,585.7 928.8,595.5" />
<path d="M616.8,48.6 L729.1,172.1 Q738.5,182.5 751.6,187.4 L799.7,205.2 Q812.8,210.1 825.7,215.6 L850.0,226.0" />
<path d="M812.8,210.1 C819.0,212.8 839.6,219.3 850.0,226.0 C860.4,232.7 869.4,237.7 875.0,250.0 C880.6,262.3 880.3,285.3 883.7,300.0 C887.1,314.7 889.5,319.8 895.2,338.0 C901.0,356.2 910.9,382.4 918.2,409.4 C925.5,436.4 933.8,479.9 938.9,500.0 C944.0,520.1 947.2,517.9 948.9,530.2 C950.6,542.5 948.9,566.5 948.9,573.7" />
<path d="M657.9,65.3 L753.2,167.8 Q762.7,178.1 775.6,183.5 L799.9,193.5 Q812.8,198.9 825.7,204.4 L860.0,219.0" />
<path d="M812.8,198.9 C820.7,202.2 847.1,211.3 860.0,219.0 C872.9,226.7 882.8,231.5 890.0,245.0 C897.2,258.5 899.5,284.5 903.3,300.0 C907.0,315.5 908.1,320.7 912.5,338.0 C916.9,355.3 922.9,376.7 929.8,403.7 C936.7,430.7 948.2,477.5 953.9,500.0 C959.6,522.5 962.8,530.2 964.0,538.5 C965.2,546.8 962.4,547.2 961.0,550.0 C959.6,552.8 957.9,553.9 955.6,555.3 C953.3,556.7 948.6,558.0 947.2,558.6" />
<path d="M560.0,63.0 C563.2,61.0 572.8,53.3 579.0,51.0 C585.2,48.7 591.8,49.8 597.0,49.0 C602.2,48.2 605.3,47.2 610.0,46.0 C614.7,44.8 619.8,41.8 625.0,41.8 C630.2,41.8 635.5,42.1 641.0,46.0 C646.5,49.9 655.1,62.1 657.9,65.3" />
<polyline points="663.8,98.5 677.5,80.9"/>
<polyline points="661.8,67.2 685.3,76.0" stroke-width="6"/>
<polyline points="812.0,221.0 818.0,232.0" stroke-width="6"/>
<polyline points="878.0,311.0 890.0,315.0" stroke-width="6"/>
<path d="M781.7,237.8 C781.9,243.2 780.2,259.6 783.0,270.0 C785.8,280.4 791.2,291.2 798.4,300.0 C805.6,308.8 816.1,316.9 826.1,323.0 C836.1,329.1 852.9,334.6 858.3,336.9" />
<ellipse cx="816.0" cy="284.0" rx="10" ry="14" transform="rotate(-30 816.0 284.0)" stroke-width="4.5"/>
<ellipse cx="801.6" cy="259.0" rx="5" ry="8" transform="rotate(-30 801.6 259.0)" stroke-width="4"/>
<ellipse cx="836.5" cy="312.7" rx="5" ry="8" transform="rotate(-30 836.5 312.7)" stroke-width="4"/>
<polyline points="930.5,548.6 945.6,545.2"/>
<polyline points="929.0,555.0 945.6,551.9"/>
<polyline points="922.1,593.8 918.8,568.7 912.0,570.0 908.7,577.0 915.4,597.2 938.9,613.9"/>
<polyline points="928.0,571.0 940.0,563.0"/>
<path d="M942.0,588.0 C941.8,586.3 940.2,580.2 941.0,578.0 C941.8,575.8 946.0,575.5 947.0,575.0" />
<polygon points="927.1,597.2 947.2,585.5 964.0,602.2 940.5,613.9"/>
<polyline points="964.0,602.2 964.0,654.2 938.9,670.0 938.9,613.9"/>
<polygon points="947.2,615.6 957.3,612.3 957.3,637.4 947.2,644.1" stroke-width="3.5"/>
<polyline points="938.9,660.9 920.4,674.3 964.0,649.1"/>
<polyline points="922.1,681.0 964.0,657.5"/>
<polyline points="922.1,681.0 954.0,721.2 974.0,711.1"/>
<polyline points="954.0,662.5 980.8,711.1"/>
<polyline points="937.2,704.4 937.2,737.9"/>
<polyline points="940.5,724.5 955.6,724.5"/>
<polyline points="954.0,721.2 964.0,734.6"/>
<path d="M913.7,729.6 C918.7,732.1 935.0,743.8 943.9,744.6 C952.8,745.4 961.1,740.2 967.3,734.6 C973.4,729.0 976.0,719.2 980.8,711.1 C985.6,703.0 993.5,690.2 996.0,686.0" />
<path d="M943.9,744.6 C942.2,751.3 937.1,773.2 933.8,784.9 C930.4,796.6 925.5,810.0 923.8,815.0" />
<path d="M479.0,109.5 C487.5,104.6 514.2,89.4 530.0,80.0 C545.8,70.6 563.2,58.0 573.5,53.0 C583.8,48.0 588.9,50.5 592.0,50.0" />
<path d="M508.9,91.1 C513.9,94.8 526.2,107.0 538.9,113.0 C551.6,119.0 569.6,124.9 585.0,126.8 C600.4,128.7 623.3,124.9 631.0,124.5" />
<ellipse cx="570.0" cy="98.0" rx="13.8" ry="19.6" transform="rotate(-20 570.0 98.0)" stroke-width="4.5"/>
<ellipse cx="542.4" cy="86.5" rx="6.5" ry="9" transform="rotate(-20 542.4 86.5)" stroke-width="4"/>
<ellipse cx="602.3" cy="109.5" rx="6.5" ry="9" transform="rotate(-20 602.3 109.5)" stroke-width="4"/>
<path d="M331.5,121.8 C332.2,117.8 333.2,103.9 335.9,97.9 C338.6,91.9 343.4,88.7 347.9,85.9 C352.4,83.2 359.1,81.9 362.9,81.4 C366.6,80.9 369.1,82.7 370.4,82.9" />
<path d="M349.4,118.0 C349.4,115.2 347.9,104.9 349.4,100.9 C350.9,96.9 355.4,94.8 358.4,94.1 C361.4,93.3 364.4,94.0 367.4,96.4 C370.4,98.8 374.9,106.4 376.4,108.4" />
<path d="M358.4,97.9 C358.6,99.2 358.7,103.3 359.5,106.0 C360.3,108.7 362.4,112.7 363.0,114.0" />
<path d="M380.9,91.9 C380.5,93.4 379.2,98.0 378.5,101.0 C377.8,104.0 376.8,108.4 376.4,109.9" />
<path d="M397.3,96.4 C396.9,98.0 396.0,103.0 395.0,106.0 C394.0,109.0 392.0,113.0 391.4,114.4" />
<path d="M415.3,67.9 C416.8,67.0 421.1,63.7 424.3,62.7 C427.6,61.7 432.3,61.6 434.8,61.9 C437.3,62.1 438.6,63.8 439.3,64.2" />
<polyline points="439.3,64.2 509.7,90.4"/>
<path d="M395.8,75.4 C397.3,74.7 401.6,71.9 404.8,70.9 C408.1,69.9 412.8,69.3 415.3,69.4 C417.8,69.5 419.1,71.3 419.8,71.7" />
<polyline points="419.8,71.7 494.7,96.4"/>
<path d="M368.9,79.9 C370.6,79.0 376.1,75.6 379.4,74.7 C382.6,73.8 385.9,74.2 388.4,74.7 C390.9,75.2 393.4,77.2 394.4,77.7" />
<polyline points="394.4,77.7 487.2,101.6"/>
<path d="M370.4,82.9 C381.9,86.9 426.1,102.0 439.3,106.9 C452.5,111.8 445.7,111.2 449.8,112.1 C453.9,112.9 459.5,112.6 464.0,112.0 C468.5,111.4 469.1,112.0 476.7,108.4 C484.3,104.8 504.2,93.4 509.7,90.4" />
<polyline points="443.8,84.4 443.8,94.9"/>
<path d="M329.0,122.0 C330.8,121.5 335.7,119.8 340.0,119.0 C344.3,118.2 352.5,117.3 355.0,117.0" stroke-width="7" />
<polyline points="661.0,96.8 672.5,85.3"/>
<ellipse cx="498.2" cy="568.8" rx="473.8" ry="320.6" transform="rotate(-115.60 498.2 568.8)" fill="#fff" />
<ellipse cx="495.0" cy="567.5" rx="450.6" ry="297.0" transform="rotate(-116.30 495.0 567.5)" />
<ellipse cx="493.4" cy="566.4" rx="428.9" ry="284.7" transform="rotate(-116.00 493.4 566.4)" />
<ellipse cx="497.8" cy="566.8" rx="421.1" ry="279.8" transform="rotate(-117.10 497.8 566.8)" />
<ellipse cx="309.2" cy="146.0" rx="5.6" ry="8.2" transform="rotate(-32 309.2 146.0)" stroke-width="4"/>
<ellipse cx="348.3" cy="134.8" rx="5.6" ry="8.2" transform="rotate(-32 348.3 134.8)" stroke-width="4"/>
<ellipse cx="390.0" cy="131.1" rx="5.6" ry="8.2" transform="rotate(-32 390.0 131.1)" stroke-width="4"/>
<ellipse cx="433.6" cy="134.8" rx="5.6" ry="8.2" transform="rotate(-32 433.6 134.8)" stroke-width="4"/>
<ellipse cx="478.2" cy="146.0" rx="5.6" ry="8.2" transform="rotate(-32 478.2 146.0)" stroke-width="4"/>
<ellipse cx="523.1" cy="164.3" rx="5.6" ry="8.2" transform="rotate(-32 523.1 164.3)" stroke-width="4"/>
<ellipse cx="567.6" cy="189.6" rx="5.6" ry="8.2" transform="rotate(-32 567.6 189.6)" stroke-width="4"/>
<ellipse cx="610.9" cy="221.3" rx="5.6" ry="8.2" transform="rotate(-32 610.9 221.3)" stroke-width="4"/>
<ellipse cx="652.2" cy="259.0" rx="5.6" ry="8.2" transform="rotate(-32 652.2 259.0)" stroke-width="4"/>
<ellipse cx="690.8" cy="302.0" rx="5.6" ry="8.2" transform="rotate(-32 690.8 302.0)" stroke-width="4"/>
<ellipse cx="726.1" cy="349.5" rx="5.6" ry="8.2" transform="rotate(-32 726.1 349.5)" stroke-width="4"/>
<ellipse cx="757.5" cy="400.8" rx="5.6" ry="8.2" transform="rotate(-32 757.5 400.8)" stroke-width="4"/>
<ellipse cx="784.5" cy="454.9" rx="5.6" ry="8.2" transform="rotate(-32 784.5 454.9)" stroke-width="4"/>
<ellipse cx="806.5" cy="511.0" rx="5.6" ry="8.2" transform="rotate(-32 806.5 511.0)" stroke-width="4"/>
<ellipse cx="823.2" cy="568.0" rx="5.6" ry="8.2" transform="rotate(-32 823.2 568.0)" stroke-width="4"/>
<ellipse cx="834.3" cy="625.1" rx="5.6" ry="8.2" transform="rotate(-32 834.3 625.1)" stroke-width="4"/>
<ellipse cx="839.6" cy="681.1" rx="5.6" ry="8.2" transform="rotate(-32 839.6 681.1)" stroke-width="4"/>
<ellipse cx="839.1" cy="735.3" rx="5.6" ry="8.2" transform="rotate(-32 839.1 735.3)" stroke-width="4"/>
<ellipse cx="832.7" cy="786.5" rx="5.6" ry="8.2" transform="rotate(-32 832.7 786.5)" stroke-width="4"/>
<ellipse cx="820.6" cy="834.1" rx="5.6" ry="8.2" transform="rotate(-32 820.6 834.1)" stroke-width="4"/>
<ellipse cx="802.9" cy="877.1" rx="5.6" ry="8.2" transform="rotate(-32 802.9 877.1)" stroke-width="4"/>
<ellipse cx="779.9" cy="914.8" rx="5.6" ry="8.2" transform="rotate(-32 779.9 914.8)" stroke-width="4"/>
<ellipse cx="752.2" cy="946.5" rx="5.6" ry="8.2" transform="rotate(-32 752.2 946.5)" stroke-width="4"/>
<ellipse cx="720.0" cy="971.8" rx="5.6" ry="8.2" transform="rotate(-32 720.0 971.8)" stroke-width="4"/>
<ellipse cx="684.0" cy="990.2" rx="5.6" ry="8.2" transform="rotate(-32 684.0 990.2)" stroke-width="4"/>
<ellipse cx="644.9" cy="1001.4" rx="5.6" ry="8.2" transform="rotate(-32 644.9 1001.4)" stroke-width="4"/>
<ellipse cx="603.2" cy="1005.1" rx="5.6" ry="8.2" transform="rotate(-32 603.2 1005.1)" stroke-width="4"/>
<ellipse cx="559.6" cy="1001.4" rx="5.6" ry="8.2" transform="rotate(-32 559.6 1001.4)" stroke-width="4"/>
<ellipse cx="515.0" cy="990.2" rx="5.6" ry="8.2" transform="rotate(-32 515.0 990.2)" stroke-width="4"/>
<ellipse cx="470.1" cy="971.9" rx="5.6" ry="8.2" transform="rotate(-32 470.1 971.9)" stroke-width="4"/>
<ellipse cx="425.6" cy="946.6" rx="5.6" ry="8.2" transform="rotate(-32 425.6 946.6)" stroke-width="4"/>
<ellipse cx="382.3" cy="914.9" rx="5.6" ry="8.2" transform="rotate(-32 382.3 914.9)" stroke-width="4"/>
<ellipse cx="341.0" cy="877.2" rx="5.6" ry="8.2" transform="rotate(-32 341.0 877.2)" stroke-width="4"/>
<ellipse cx="302.4" cy="834.2" rx="5.6" ry="8.2" transform="rotate(-32 302.4 834.2)" stroke-width="4"/>
<ellipse cx="267.1" cy="786.7" rx="5.6" ry="8.2" transform="rotate(-32 267.1 786.7)" stroke-width="4"/>
<ellipse cx="235.7" cy="735.4" rx="5.6" ry="8.2" transform="rotate(-32 235.7 735.4)" stroke-width="4"/>
<ellipse cx="208.7" cy="681.3" rx="5.6" ry="8.2" transform="rotate(-32 208.7 681.3)" stroke-width="4"/>
<ellipse cx="186.7" cy="625.2" rx="5.6" ry="8.2" transform="rotate(-32 186.7 625.2)" stroke-width="4"/>
<ellipse cx="170.0" cy="568.2" rx="5.6" ry="8.2" transform="rotate(-32 170.0 568.2)" stroke-width="4"/>
<ellipse cx="158.9" cy="511.1" rx="5.6" ry="8.2" transform="rotate(-32 158.9 511.1)" stroke-width="4"/>
<ellipse cx="153.6" cy="455.1" rx="5.6" ry="8.2" transform="rotate(-32 153.6 455.1)" stroke-width="4"/>
<ellipse cx="154.1" cy="400.9" rx="5.6" ry="8.2" transform="rotate(-32 154.1 400.9)" stroke-width="4"/>
<ellipse cx="160.5" cy="349.7" rx="5.6" ry="8.2" transform="rotate(-32 160.5 349.7)" stroke-width="4"/>
<ellipse cx="172.6" cy="302.1" rx="5.6" ry="8.2" transform="rotate(-32 172.6 302.1)" stroke-width="4"/>
<ellipse cx="190.3" cy="259.1" rx="5.6" ry="8.2" transform="rotate(-32 190.3 259.1)" stroke-width="4"/>
<ellipse cx="213.3" cy="221.4" rx="5.6" ry="8.2" transform="rotate(-32 213.3 221.4)" stroke-width="4"/>
<ellipse cx="241.0" cy="189.7" rx="5.6" ry="8.2" transform="rotate(-32 241.0 189.7)" stroke-width="4"/>
<ellipse cx="273.2" cy="164.4" rx="5.6" ry="8.2" transform="rotate(-32 273.2 164.4)" stroke-width="4"/>
<polyline points="350.0,165.9 389.1,147.5"/>
<path d="M306.1,227.1 C307.1,224.9 309.6,216.9 312.0,214.0 C314.4,211.1 312.2,213.7 320.6,209.4 C329.0,205.1 347.5,194.3 362.6,188.4 C377.7,182.5 402.9,176.3 411.0,173.9" />
<polyline points="306.1,227.1 336.8,365.8"/>
<polyline points="430.6,177.5 430.3,346.5 546.5,325.5"/>
<polyline points="580.2,245.6 542.5,356.2"/>
<path d="M542.5,356.2 C542.2,358.8 539.8,367.4 541.0,372.0 C542.2,376.6 548.5,381.8 550.0,383.8" />
<polyline points="550.0,383.8 678.2,370.0 693.3,356.2"/>
<polyline points="678.2,370.0 715.9,393.9"/>
<polyline points="615.4,464.2 715.9,388.8" stroke-width="6.5"/>
<path d="M615.4,464.2 C614.8,465.8 611.2,471.5 612.0,474.0 C612.8,476.5 611.5,477.3 620.4,479.3 C629.3,481.3 649.7,485.4 665.6,486.0 C681.5,486.6 700.4,484.9 715.9,483.0 C731.4,481.1 751.5,475.8 758.6,474.3" />
<path d="M663.5,595.8 C667.9,595.5 676.8,594.5 690.0,594.2 C703.2,593.9 726.9,598.0 742.6,594.2 C758.4,590.4 774.9,575.3 784.5,571.6 C794.1,567.9 797.4,571.9 800.0,572.0" />
<polyline points="663.5,595.8 663.5,620.0 800.6,620.0"/>
<path d="M658.7,691.0 C664.6,691.8 681.8,696.3 694.2,695.8 C706.6,695.2 726.5,689.1 732.9,687.7" />
<polyline points="742.6,687.7 803.9,699.0"/>
<polyline points="658.7,691.0 658.7,710.3 797.4,776.5"/>
<path d="M753.6,481.8 C755.5,489.8 762.1,513.7 765.0,530.0 C767.9,546.3 770.2,571.5 771.2,579.8" />
<path d="M765.2,623.2 C764.3,627.7 762.1,641.9 760.0,650.0 C757.9,658.1 756.8,665.3 752.3,671.6 C747.8,677.9 736.1,685.0 732.9,687.7" />
<path d="M689.4,729.7 C684.5,734.2 667.8,750.8 660.0,757.0 C652.2,763.2 647.6,765.0 642.6,766.8 C637.6,768.6 632.1,767.8 630.0,768.0" />
<path d="M630.0,768.0 C628.8,769.7 623.6,773.1 623.0,778.0 C622.4,782.9 625.9,794.2 626.5,797.4" />
<polyline points="626.5,797.4 744.2,897.4"/>
<polyline points="553.4,822.1 625.0,954.6"/>
<path d="M721.6,884.5 C717.0,893.1 707.8,924.4 694.2,936.1 C680.6,947.9 649.0,951.9 640.0,955.0" />
<polyline points="465.8,826.5 488.4,907.1"/>
<path d="M488.4,907.1 C489.0,908.2 490.4,912.9 492.0,914.0 C493.6,915.1 497.0,913.6 498.0,913.5" />
<path d="M498.0,913.5 C505.0,911.2 527.6,907.0 540.0,900.0 C552.4,893.0 566.9,876.3 572.3,871.6" />
<path d="M320.6,311.0 C310.4,317.4 269.6,343.2 259.4,349.7" />
<path d="M259.4,349.7 C257.7,351.8 250.1,357.7 249.0,362.0 C247.9,366.3 252.2,373.2 252.9,375.5" />
<polyline points="252.9,375.5 285.2,407.7"/>
<path d="M272.3,440.0 C268.2,443.3 253.9,453.6 248.0,460.0 C242.1,466.4 239.2,471.8 236.8,478.7 C234.4,485.6 229.7,495.1 233.5,501.3 C237.3,507.5 255.1,513.4 259.4,515.8" />
<path d="M365.8,357.7 C369.6,355.6 380.9,347.5 388.4,344.8 C395.9,342.1 407.2,342.1 411.0,341.6" />
<polyline points="411.0,341.6 411.0,347.0"/>
<polyline points="382.0,784.5 385.2,810.3 411.0,810.3 414.2,800.6"/>
<path d="M809.0,903.7 C800.8,906.1 774.0,913.1 760.0,918.0 C746.0,922.9 735.0,928.2 725.0,933.0 C715.0,937.8 704.2,944.2 700.0,946.5" />
<ellipse cx="444.2" cy="591.0" rx="245.4" ry="163.5" transform="rotate(-116.90 444.2 591.0)" fill="#fff" />
<polyline points="486.6,395.0 496.0,401.8 505.2,409.1 514.3,417.0 523.2,425.3 531.9,434.1 540.3,443.3 548.5,452.9 556.4,463.0 563.9,473.4 571.1,484.1 578.0,495.2 584.4,506.5 590.5,518.0 596.2,529.8 601.4,541.7 606.2,553.7 610.5,565.9 614.4,578.1 617.7,590.4 620.6,602.7 623.0,614.9 624.9,627.1 626.3,639.2 627.1,651.1 627.5,662.9 627.3,674.5 626.6,685.8 625.4,696.9 623.7,707.6 621.4,718.1 618.7,728.1 615.5,737.8 611.8,747.1 607.6,755.9 602.9,764.3 597.8,772.2 592.3,779.5 586.4,786.3 580.0,792.6 573.3,798.3 566.2,803.5 558.8,808.0 551.0,811.9 542.9,815.2" stroke-width="7"/>
<ellipse cx="444.2" cy="591.0" rx="238.4" ry="156.5" transform="rotate(-116.90 444.2 591.0)" />
<polyline points="589.4,765.1 584.1,769.3 578.4,772.9 572.5,776.0 566.3,778.6 559.9,780.6 553.2,782.0 546.4,782.8 539.3,783.1 532.1,782.8 524.7,781.9 517.2,780.4 509.6,778.4 501.8,775.8 494.1,772.6 486.2,768.9 478.4,764.7 470.5,759.9 462.7,754.6 454.9,748.8 447.2,742.6 439.6,735.9 432.1,728.7 424.7,721.1 417.4,713.1 410.4,704.7 403.5,696.0 396.8,686.9 390.4,677.6 384.2,667.9 378.3,658.0 372.6,647.9 367.3,637.5 362.2,627.0 357.5,616.4 353.1,605.7 349.1,594.8 345.4,584.0 342.2,573.1 339.2,562.2 336.7,551.3 334.6,540.6 332.9,529.9 331.6,519.4 330.7,509.0 330.2,498.9 330.2,488.9 330.5,479.2 331.3,469.8 332.5,460.7 334.0,451.9 336.0,443.5 338.4,435.4 341.2,427.7 344.4,420.5 347.9,413.7 351.9,407.4 356.1,401.5 360.7,396.1 365.7,391.3 370.9,387.0 376.5,383.2 382.3,379.9 388.5,377.2 394.8,375.1 401.4,373.5 408.3,372.5"/>
<ellipse cx="426.6" cy="606.5" rx="176.1" ry="123.3" transform="rotate(-111.00 426.6 606.5)" fill="#fff" />
<ellipse cx="412.0" cy="610.5" rx="175.3" ry="120.5" transform="rotate(-114.00 412.0 610.5)" />
<polygon points="440.3,779.1 435.4,779.0 306.9,773.2 302.8,772.9 298.7,772.3 294.6,771.4 290.4,770.2 286.2,768.8 282.0,767.0 277.8,765.0 273.6,762.7 269.5,760.2 265.4,757.4 261.3,754.4 257.4,751.1 253.4,747.6 249.6,743.9 245.9,740.0 242.3,735.9 238.7,731.6 235.4,727.1 232.1,722.4 229.0,717.6 226.0,712.7 223.3,707.7 220.6,702.5 218.2,697.2 215.9,691.9 213.8,686.5 211.9,681.0 210.2,675.5 208.8,670.0 207.5,664.5 206.4,659.0 205.6,653.5 204.9,648.0 204.5,642.6 204.3,637.3 204.3,632.0 204.6,626.9 205.0,621.9 205.7,616.9 206.6,612.2 207.7,607.5 209.0,603.1 210.5,598.8 212.3,594.7 214.2,590.8 216.3,587.2 218.6,583.7 287.3,487.0 290.2,483.1 293.2,479.3 296.4,475.7 299.8,472.4 303.3,469.2 307.0,466.3 310.8,463.6 314.7,461.2 318.8,459.0 322.9,457.0 327.2,455.3 331.6,453.8 336.1,452.6 340.7,451.6 345.4,450.8 350.2,450.4 355.1,450.1 360.0,450.2 364.9,450.4 369.9,451.0 375.0,451.8 380.1,452.8 385.2,454.1 390.4,455.6 395.5,457.4 400.7,459.4 405.8,461.7 411.0,464.2 416.1,466.9 421.2,469.9 426.2,473.0 431.3,476.4 436.2,480.0 441.1,483.9 445.9,487.9 450.7,492.1 455.4,496.5 460.0,501.1 464.5,505.8 468.9,510.8 473.1,515.9 477.3,521.1 481.3,526.5 485.2,532.0 489.0,537.7 492.7,543.4 496.1,549.3 499.5,555.3 502.7,561.3 505.7,567.5 508.5,573.7 511.2,580.0 513.7,586.3 516.1,592.7 518.2,599.1 520.2,605.6 521.9,612.0 523.5,618.5 524.9,625.0 526.1,631.4 527.1,637.8 527.9,644.2 528.4,650.5 528.8,656.8 529.0,663.0 529.0,669.1 528.8,675.2 528.4,681.1 527.7,687.0 526.9,692.7 525.9,698.3 524.7,703.8 523.3,709.2 521.7,714.4 519.9,719.5 517.9,724.4 515.7,729.1 513.3,733.6 510.8,738.0 508.1,742.2 505.2,746.1 502.2,749.9 499.0,753.5 495.6,756.8 492.1,760.0 488.4,762.9 484.6,765.6 480.7,768.0 476.6,770.2 472.5,772.2 468.2,773.9 463.8,775.4 459.3,776.6 454.7,777.6 450.0,778.4 445.2,778.8" fill="#fff"/>
<polyline points="301.6,483.9 306.9,480.9 312.4,478.3 318.1,476.1 324.0,474.3 329.9,473.0 336.1,472.1 342.3,471.6 348.6,471.6 355.0,472.0 361.4,472.8 367.9,474.0 374.4,475.7 380.9,477.8 387.4,480.3 393.9,483.2 400.3,486.6 406.6,490.3 412.9,494.4 419.0,498.8 425.1,503.6 431.0,508.8 436.7,514.3 442.3,520.1 447.6,526.2 452.8,532.5 457.8,539.2 462.6,546.1 467.1,553.2 471.3,560.5 475.3,568.0 479.0,575.7 482.4,583.5 485.5,591.4 488.4,599.5 490.9,607.6 493.1,615.8 494.9,624.0 496.5,632.2 497.7,640.4 498.5,648.5 499.1,656.6 499.2,664.7 499.1,672.6 498.6,680.4 497.7,688.1 496.5,695.5 495.0,702.9 493.2,709.9 491.0,716.8 488.5,723.4 485.7,729.8 482.6,735.9 479.2,741.6 475.5,747.1 471.5,752.2 467.3,757.0 462.8,761.4 458.1,765.5 453.1,769.2 447.9,772.4 442.5,775.3 437.0,777.8 431.3,779.8"/>
<polyline points="254.3,533.5 258.9,532.3 263.5,531.6 268.3,531.1 273.2,531.0 278.1,531.3 283.1,531.8 288.1,532.8 293.2,534.1 298.3,535.7 303.4,537.7 308.5,539.9 313.6,542.6 318.7,545.5 323.7,548.7 328.6,552.2 333.4,556.1 338.2,560.2 342.8,564.5 347.4,569.2 351.8,574.0 356.0,579.1 360.2,584.4 364.1,589.9 367.9,595.6 371.4,601.5 374.8,607.5 378.0,613.6 380.9,619.9 383.7,626.2 386.2,632.7 388.4,639.2 390.4,645.8 392.2,652.3 393.7,658.9 395.0,665.5 396.0,672.1 396.7,678.6 397.1,685.0 397.3,691.4 397.2,697.7 396.9,703.8 396.3,709.8 395.4,715.7 394.2,721.4 392.8,726.9 391.1,732.2 389.2,737.3 387.0,742.2 384.6,746.8 382.0,751.2 379.1,755.3 376.0,759.2 372.7,762.7 369.2,766.0 365.5,768.9 361.6,771.5 357.6,773.8 353.3,775.8"/>
<polyline points="216.4,587.0 218.7,583.6 221.2,580.3 223.9,577.3 226.8,574.6 229.8,572.1 233.0,569.8 236.3,567.9 239.8,566.2 243.4,564.8 247.1,563.7 250.9,562.9 254.8,562.4 258.7,562.2 262.8,562.3 266.9,562.6 271.1,563.3 275.3,564.2 279.5,565.5 283.7,567.0 288.0,568.8 292.2,570.9 296.4,573.3 300.6,575.9 304.7,578.8 308.8,581.9 312.8,585.2 316.7,588.8 320.5,592.7 324.3,596.7 327.9,600.9 331.4,605.3 334.8,609.9 338.0,614.6 341.1,619.5 344.0,624.6 346.8,629.7 349.4,635.0 351.8,640.3 354.0,645.7 356.0,651.2 357.8,656.8 359.4,662.3 360.8,667.9 362.0,673.5 363.0,679.0 363.8,684.6 364.3,690.1 364.6,695.5 364.7,700.8 364.6,706.1 364.2,711.2 363.6,716.2 362.8,721.1 361.8,725.8 360.6,730.4 359.1,734.8 357.5,739.0 355.6,743.0 353.5,746.8 351.3,750.4 348.8,753.8 346.2,756.9 343.4,759.7 340.5,762.3"/>
<ellipse cx="270.9" cy="675.3" rx="89.6" ry="58.9" transform="rotate(-117.00 270.9 675.3)" fill="#fff" />
<ellipse cx="252.5" cy="680.5" rx="81.2" ry="53.8" transform="rotate(-117.00 252.5 680.5)" />
<ellipse cx="240.7" cy="598.9" rx="4.2" ry="8.5" transform="rotate(55 240.7 598.9)" stroke-width="4"/>
<ellipse cx="279.6" cy="617.6" rx="4.2" ry="8.5" transform="rotate(55 279.6 617.6)" stroke-width="4"/>
<ellipse cx="309.9" cy="653.6" rx="4.2" ry="8.5" transform="rotate(55 309.9 653.6)" stroke-width="4"/>
<ellipse cx="321.4" cy="698.2" rx="4.2" ry="8.5" transform="rotate(55 321.4 698.2)" stroke-width="4"/>
<ellipse cx="233.5" cy="692.1" rx="81.2" ry="61.4" transform="rotate(-117.00 233.5 692.1)" fill="#fff" />
<clipPath id="cpN2"><ellipse cx="233.5" cy="692.1" rx="74.2" ry="54.4" transform="rotate(-117.00 233.5 692.1)"/></clipPath>
<ellipse cx="233.5" cy="692.1" rx="74.2" ry="54.4" transform="rotate(-117.00 233.5 692.1)" />
<g clip-path="url(#cpN2)">
<path d="M216.2,600.0 C216.2,603.9 216.7,614.2 216.2,623.4 C215.7,632.6 211.9,642.5 213.4,655.0 C214.9,667.5 218.7,686.7 224.9,698.2 C231.1,709.7 241.7,718.4 250.8,724.2 C259.9,730.0 271.4,731.8 279.6,732.8 C287.8,733.8 296.6,730.5 300.0,730.0" />
<path d="M232.0,600.0 C231.8,604.4 231.5,617.0 230.6,626.2 C229.7,635.4 225.3,643.5 226.3,655.0 C227.3,666.5 230.9,684.4 236.4,695.4 C241.9,706.4 252.2,715.5 259.4,721.3 C266.6,727.0 272.8,729.1 279.6,729.9 C286.4,730.7 296.6,726.6 300.0,726.0" />
<ellipse cx="268.1" cy="669.4" rx="5" ry="25.5" transform="rotate(-26.6 268.1 669.4)"/>
</g>
<polygon points="48.7,1045.6 99.8,947.7 122.9,960.6 223.7,905.9 246.7,918.9 246.7,997.4 123.6,1067.9 123.6,1098.2 73.2,1058.6"/>
<polyline points="122.9,960.6 122.9,992.3 246.7,919.6"/>
<polyline points="73.2,1058.6 122.2,962.1"/>
<text x="0" y="0" font-size="56" font-style="italic" font-weight="bold" transform="translate(125.5 1050) skewY(-29.5)" textLength="100" lengthAdjust="spacingAndGlyphs">FWD</text>
</g>
<text x="265.0" y="1167.5" font-size="57.5" textLength="682.5" lengthAdjust="spacingAndGlyphs" >TURBINE EXHAUST CASE</text>
</g></svg></body></html>
